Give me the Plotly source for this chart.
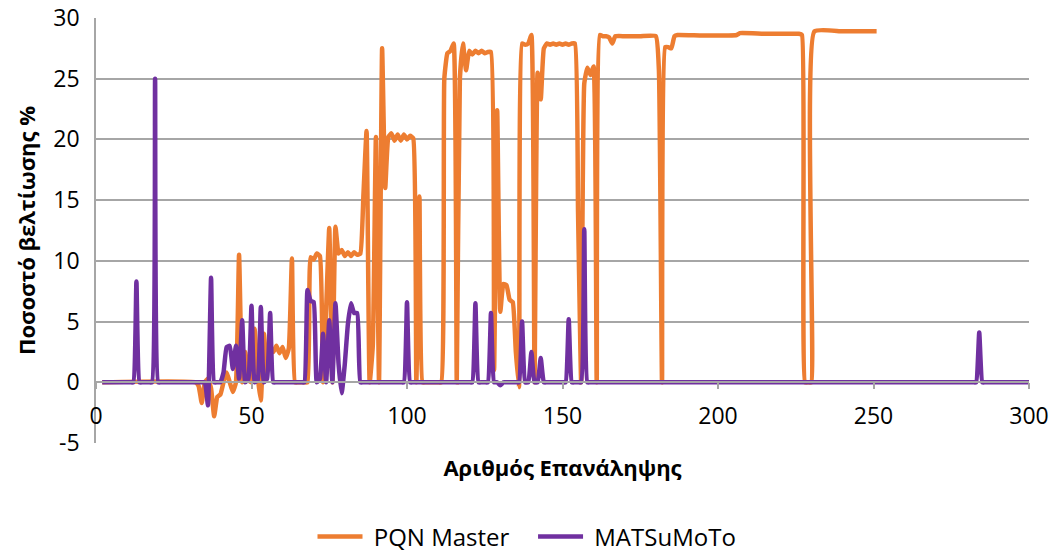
import plotly.graph_objects as go

# PQN Master (orange) – iteration / improvement %
pqn_x = [2, 32, 33, 34, 35, 36, 37, 38, 39, 40, 41, 42, 43, 44, 45, 46, 47, 48, 49, 50,
         51, 52, 53, 54, 55, 56, 57, 58, 59, 60, 61, 62, 63, 64, 65, 67, 68, 69, 70,
         71, 72, 73, 74, 75, 76, 77, 78, 79, 80, 81, 82, 83, 84, 85, 86, 87, 88, 89, 90,
         91, 92, 93, 94, 95, 96, 97, 98, 99, 100, 101, 102, 103, 104, 105, 106, 110, 111,
         112, 113, 114, 115, 116, 117, 118, 119, 120, 121, 122, 123, 124, 125, 126, 127,
         128, 129, 130, 131, 132, 133, 134, 135, 136, 137, 138, 139, 140, 141, 142, 143,
         144, 145, 146, 147, 148, 149, 150, 151, 152, 153, 154, 155, 156, 157, 158, 159,
         160, 161, 162, 163, 164, 165, 166, 167, 170, 175, 180, 181, 182, 183, 184, 185,
         186, 187, 195, 206, 207, 215, 226, 227, 228, 229, 230, 231, 240, 251]
pqn_y = [0, 0, -0.3, -1.7, 0, 0.3, -0.5, -2.8, -1.2, -1.0, 0, 0.8, 0, -0.8, 0, 10.5, 0, 2.5, 0.2, 0,
         4.4, 0.5, -1.5, 4.0, 0.8, 2.8, 2.5, 3.0, 2.4, 2.9, 2.0, 2.8, 10.2, 0, 0, 0, 0, 10.3, 10.1,
         10.6, 10.4, 0, 6.0, 12.7, 0, 12.8, 10.6, 10.9, 10.4, 10.7, 10.4, 10.7, 10.5, 10.6, 15.5, 20.7, 0, 3.0, 20.2,
         0, 27.5, 16.0, 20.2, 20.5, 19.9, 20.4, 19.9, 20.4, 20.0, 20.3, 20.1, 0, 15.3, 0, 0, 0, 0,
         25.0, 27.1, 27.3, 27.9, 0, 25.0, 27.9, 25.7, 27.3, 27.0, 27.3, 27.1, 27.3, 27.1, 27.2, 27.2,
         1.0, 22.4, 5.8, 8.1, 8.0, 6.8, 6.6, 2.5, -0.4, 27.9, 27.8, 27.9, 28.6, 0, 25.5, 23.3,
         27.5, 27.9, 27.8, 27.9, 27.8, 27.9, 27.8, 27.9, 27.8, 27.9, 27.9, 14.0, 0, 24.6, 25.9, 25.3,
         26.0, 0, 28.6, 28.5, 28.5, 28.4, 27.9, 28.5, 28.5, 28.5, 28.5, 25.7, 0, 27.6, 27.6, 27.5,
         28.5, 28.6, 28.55, 28.6, 28.75, 28.7, 28.7, 28.6, 0, 0, 0, 28.9, 28.9, 28.9]

# MATSuMoTo (purple)
mat_x = [2, 11, 12, 13, 14, 15, 17, 18, 19, 20, 21, 34, 35, 36, 37, 38, 39, 40, 41, 42,
         43, 44, 45, 46, 47, 48, 49, 50, 51, 52, 53, 54, 55, 56, 57, 58, 66, 67, 68, 69,
         70, 71, 72, 73, 74, 75, 76, 77, 78, 79, 80, 81, 82, 83, 84, 85, 86, 98, 99, 100,
         101, 102, 120, 121, 122, 123, 124, 125, 126, 127, 128, 129, 130, 131, 132, 135, 136,
         137, 138, 139, 140, 141, 142, 143, 144, 145, 150, 151, 152, 153, 154, 155, 156, 157,
         158, 159, 282, 283, 284, 285, 286, 300]
mat_y = [0, 0, 0, 8.3, 0, 0, 0, 0, 25.0, 0, 0, 0, 0, -1.9, 8.6, 0, 0, 0, 0.8, 2.9,
         3.0, 1.1, 3.0, 0.3, 5.1, 0, 0.3, 6.3, 0, 0.2, 6.2, 0, 0.3, 5.7, 0, 0, 0, 0, 7.6, 6.7,
         6.6, 0, 0.3, 4.0, 0, 5.1, 0, 6.5, 1.5, -0.9, 1.5, 4.8, 6.5, 5.7, 5.7, 0, 0, 0, 0, 6.6,
         0, 0, 0, 0, 6.5, 0, 0, 0, 0, 5.7, 0, 0, -0.25, 0, 0, 0, 0,
         5.0, 0, 0, 2.5, 0, 0, 2.0, 0, 0, 0, 0, 5.2, 0, 0, 0, 0, 12.6,
         0, 0, 0, 0, 4.1, 0, 0, 0]

x_ticks = [0, 50, 100, 150, 200, 250, 300]
y_ticks = [-5, 0, 5, 10, 15, 20, 25, 30]
y_ticktext = ["-5", "0", "5", "10", "15", "20", "25", "30"]

FONT = "Open Sans"
GRID = "#a6a6a6"
NB = "\u00a0"

fig = go.Figure()
fig.add_trace(go.Scatter(x=pqn_x, y=pqn_y, mode="lines", name=NB + "PQN Master" + NB * 3,
                         line=dict(color="#ED7D31", width=4.5, shape="spline", smoothing=0.4)))
fig.add_trace(go.Scatter(x=mat_x, y=mat_y, mode="lines", name=NB + "MATSuMoTo",
                         line=dict(color="#7030A0", width=4.5, shape="spline", smoothing=0.4)))

fig.update_layout(
    width=1054, height=552,
    margin=dict(l=96, r=25, t=18, b=109, autoexpand=False),
    paper_bgcolor="white", plot_bgcolor="white",
    font=dict(family=FONT, size=23, color="black"),
    showlegend=True,
    legend=dict(orientation="h", x=(527 - 96) / 933, xanchor="center", y=-0.221, yanchor="middle",
                font=dict(size=24), itemwidth=45, tracegroupgap=0),
    xaxis=dict(range=[0, 300], tickvals=x_ticks, automargin=False,
               showgrid=False, zeroline=False, showline=True, linecolor=GRID, linewidth=1.5,
               ticks="outside", ticklen=6, tickcolor=GRID, tickwidth=1.5,
               ticklabelstandoff=7,
               anchor="free", position=5/35,
               title=dict(text="<b>Αριθμός Επανάληψης</b>", standoff=30, font=dict(size=22))),
    yaxis=dict(range=[-5, 30], tickvals=y_ticks, ticktext=y_ticktext, automargin=False,
               showgrid=True, gridcolor=GRID, gridwidth=1.5,
               zeroline=False, showline=True, linecolor=GRID, linewidth=1.5,
               ticks="", ticklabelstandoff=10,
               title=dict(text="<b>Ποσοστό βελτίωσης %</b>", standoff=12, font=dict(size=22))),
)

fig.write_html("out.html")
